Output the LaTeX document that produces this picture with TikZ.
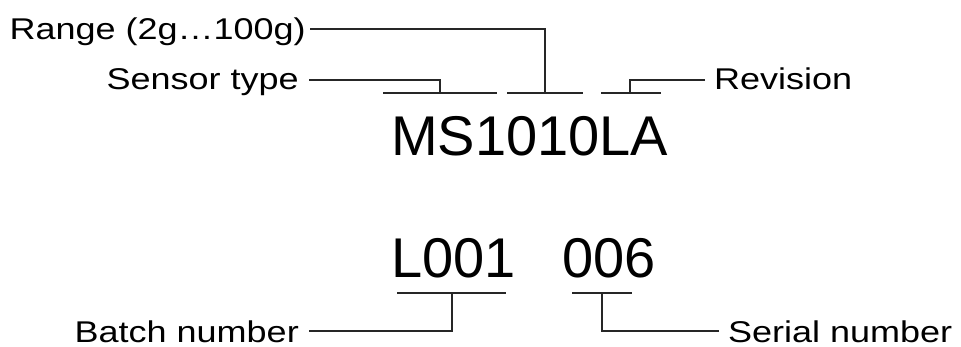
\documentclass[tikz,border=0pt]{standalone}
\usepackage{fontspec}
\setmainfont{Liberation Sans}
\newfontfamily\lblfont[FakeStretch=1.2]{Liberation Sans}
\begin{document}
\begin{tikzpicture}[x=1pt,y=-1pt,
  lbl/.style={inner sep=0pt,font=\lblfont\fontsize{30}{34}\selectfont},
  code/.style={inner sep=0pt,font=\fontsize{56}{62}\selectfont},
  conn/.style={draw=black!85,line width=1.3pt}]
\useasboundingbox (0,0) rectangle (961,347);
% codes
\node[code,anchor=base west] (ms) at (391,156) {MS1010LA};
\node[code,anchor=base west] (lot) at (391,278) {L001};
\node[code,anchor=base west] (ser) at (562.5,278) {006};
% labels
\node[lbl,anchor=base east] (range) at (306,39.5) {Range (2g…100g)};
\node[lbl,anchor=base east] (sensor) at (299,90) {Sensor type};
\node[lbl,anchor=base west] (rev) at (714,90) {Revision};
\node[lbl,anchor=base east] (batch) at (299,342) {Batch number};
\node[lbl,anchor=base west] (serial) at (728,342) {Serial number};
% bar coordinates
\coordinate (msA) at (383,93);  \coordinate (msB) at (497,93);  \coordinate (msT) at (440,93);
\coordinate (rgA) at (507,93);  \coordinate (rgB) at (583,93);  \coordinate (rgT) at (545,93);
\coordinate (rvA) at (601,93);  \coordinate (rvB) at (661,93);  \coordinate (rvT) at (630,93);
\coordinate (btA) at (397,293); \coordinate (btB) at (506,293); \coordinate (btT) at (452,293);
\coordinate (snA) at (572,293); \coordinate (snB) at (632,293); \coordinate (snT) at (602,293);
% bars
\draw[conn] (msA) -- (msB);
\draw[conn] (rgA) -- (rgB);
\draw[conn] (rvA) -- (rvB);
\draw[conn] (btA) -- (btB);
\draw[conn] (snA) -- (snB);
% leaders
\draw[conn] ([shift={(4,-10.5)}]range.base east) -| (rgT);
\draw[conn] ([shift={(10,-10)}]sensor.base east) -| (msT);
\draw[conn] ([shift={(-9,-10)}]rev.base west) -| (rvT);
\draw[conn] ([shift={(10,-11)}]batch.base east) -| (btT);
\draw[conn] ([shift={(-9,-11)}]serial.base west) -| (snT);
\end{tikzpicture}
\end{document}
